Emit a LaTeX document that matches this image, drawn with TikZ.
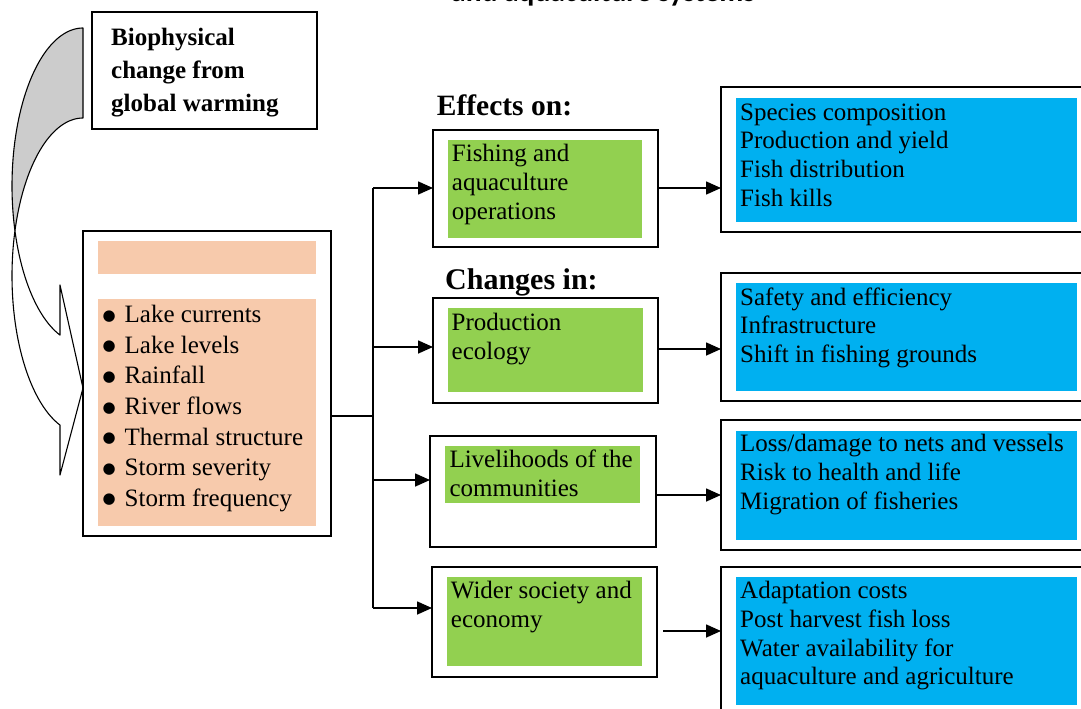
\documentclass[tikz,border=0pt]{standalone}
\usepackage{fontspec}
\setmainfont{Liberation Serif}
\newfontfamily\capfont{Carlito}
\newfontfamily\symfont{DejaVu Sans}
\usetikzlibrary{arrows.meta}
\definecolor{peach}{HTML}{F7CAAC}
\definecolor{leaf}{HTML}{92D050}
\definecolor{sky}{HTML}{00B0F0}
\definecolor{shade}{HTML}{CCCCCC}
\newcommand{\blt}{\makebox[22pt][l]{\raisebox{2.5pt}{\symfont\fontsize{15}{15}\selectfont ●}}}
\begin{document}
\begin{tikzpicture}[x=1pt,y=-1pt,
  frame/.style={draw=black, line width=1.4pt, fill=white, anchor=north west, inner sep=0pt, outer sep=0pt},
  panel/.style={anchor=north west, inner sep=0pt, outer sep=0pt, draw=none},
  body/.style={anchor=north west, inner sep=0pt, align=left, font=\fontsize{25}{28.75}\selectfont},
  head/.style={anchor=base west, inner sep=0pt, font=\bfseries},
  link/.style={line width=1.6pt},
  arrowlink/.style={line width=1.6pt, -{Triangle[length=15pt,width=13pt]}},
  ribbon/.style={draw=black, line width=1.1pt, line join=round},
]
\useasboundingbox (0,0) rectangle (1081,709);
\clip (0,0) rectangle (1081,709);

% cut-off title at the top
\node[anchor=base west, inner sep=0pt, font=\capfont\bfseries\fontsize{29.5}{34}\selectfont] (title) at (451,1.5) {and aquaculture systems};

% curved arrow
\filldraw[ribbon, fill=shade]
  plot[domain=163.43:270, samples=60, variable=\t] ({83+71*cos(\t)},{185.8+157.8*sin(\t)})
  -- plot[domain=-270:-196.57, samples=40, variable=\t] ({83+71*cos(-\t)},{275.8+157.8*sin(-\t)})
  -- cycle;
\filldraw[ribbon, fill=white]
  plot[domain=-196.57:-108.9, samples=60, variable=\t] ({83+71*cos(-\t)},{275.8+157.8*sin(-\t)})
  -- (60,475) -- (83,388) -- (60,285) -- (60,335.1)
  -- plot[domain=108.9:163.43, samples=40, variable=\t] ({83+71*cos(\t)},{185.8+157.8*sin(\t)})
  -- cycle;

% biophysical box
\node[frame, minimum width=225, minimum height=117] (bio) at (92,12) {};
\node[body, font=\bfseries\fontsize{25}{33}\selectfont] (biotext) at (111,21.9)
  {\strut Biophysical\\change from\\global warming};

% left factor box
\node[frame, minimum width=248, minimum height=305] (factors) at (83,231) {};
\node[panel, fill=peach, minimum width=218, minimum height=33] (ptop) at (98,241) {};
\node[panel, fill=peach, minimum width=218, minimum height=227] (pmain) at (98,299) {};
\node[body, font=\fontsize{25}{30.55}\selectfont] (bullets) at (102.5,301.3)
  {\strut\blt Lake currents\\
   \blt Lake levels\\
   \blt Rainfall\\
   \blt River flows\\
   \blt Thermal structure\\
   \blt Storm severity\\
   \blt Storm frequency};

% headings
\node[head, font=\bfseries\fontsize{29.5}{34}\selectfont] (effects) at (436.7,115) {Effects on:};
\node[head, font=\bfseries\fontsize{30}{35}\selectfont] (changes) at (445,289.3) {Changes in:};

% middle boxes
\node[frame, minimum width=225, minimum height=117] (b1) at (433,130) {};
\node[panel, fill=leaf, minimum width=194, minimum height=98] (g1) at (448,140) {};
\node[body] (t1) at (451.7,141.6) {\strut Fishing and\\aquaculture\\operations};

\node[frame, minimum width=225, minimum height=105] (b2) at (433,298) {};
\node[panel, fill=leaf, minimum width=195, minimum height=84] (g2) at (448,308) {};
\node[body] (t2) at (451.5,310.6) {\strut Production\\ecology};

\node[frame, minimum width=226, minimum height=111] (b3) at (430,436) {};
\node[panel, fill=leaf, minimum width=195, minimum height=57] (g3) at (445,446) {};
\node[body] (t3) at (449.3,447.6) {\strut Livelihoods of the\\communities};

\node[frame, minimum width=225, minimum height=110] (b4) at (432,567) {};
\node[panel, fill=leaf, minimum width=195, minimum height=89] (g4) at (447,577) {};
\node[body] (t4) at (450.7,578.2) {\strut Wider society and\\economy};

% right boxes
\node[frame, minimum width=380, minimum height=145] (r1) at (721,87) {};
\node[panel, fill=sky, minimum width=341, minimum height=124] (s1) at (736,98) {};
\node[body] (u1) at (740,99.9) {\strut Species composition\\Production and yield\\Fish distribution\\Fish kills};

\node[frame, minimum width=380, minimum height=128] (r2) at (721,273) {};
\node[panel, fill=sky, minimum width=341, minimum height=108] (s2) at (736,283) {};
\node[body] (u2) at (740,284.9) {\strut Safety and efficiency\\Infrastructure\\Shift in fishing grounds};

\node[frame, minimum width=380, minimum height=130] (r3) at (721,420) {};
\node[panel, fill=sky, minimum width=341, minimum height=109] (s3) at (736,431) {};
\node[body] (u3) at (740,431.6) {\strut Loss/damage to nets and vessels\\Risk to health and life\\Migration of fisheries};

\node[frame, minimum width=380, minimum height=170] (r4) at (721,567) {};
\node[panel, fill=sky, minimum width=341, minimum height=128] (s4) at (736,577) {};
\node[body] (u4) at (740,578.2) {\strut Adaptation costs\\Post harvest fish loss\\Water availability for\\aquaculture and agriculture};

% trunk connectors
\coordinate (tk) at (373,416);
\coordinate (tk1) at (373,188);
\coordinate (tk2) at (373,347);
\coordinate (tk3) at (373,480);
\coordinate (tk4) at (373,608);
\draw[link] (factors.east |- tk) -- (tk);
\draw[link] (tk1) -- (tk4);
\draw[arrowlink] (tk1) -- (tk1 -| b1.west);
\draw[arrowlink] (tk2) -- (tk2 -| b2.west);
\draw[arrowlink] (tk3) -- (tk3 -| b3.west);
\draw[arrowlink] (tk4) -- (tk4 -| b4.west);

% right connectors
\draw[arrowlink] (b1.east |- 0,188) -- (r1.west |- 0,188);
\draw[arrowlink] (b2.east |- 0,349) -- (r2.west |- 0,349);
\draw[arrowlink] ([xshift=1pt]b3.east |- 0,495) -- (r3.west |- 0,495);
\draw[arrowlink] ([xshift=6pt]b4.east |- 0,631) -- (r4.west |- 0,631);
\end{tikzpicture}
\end{document}
